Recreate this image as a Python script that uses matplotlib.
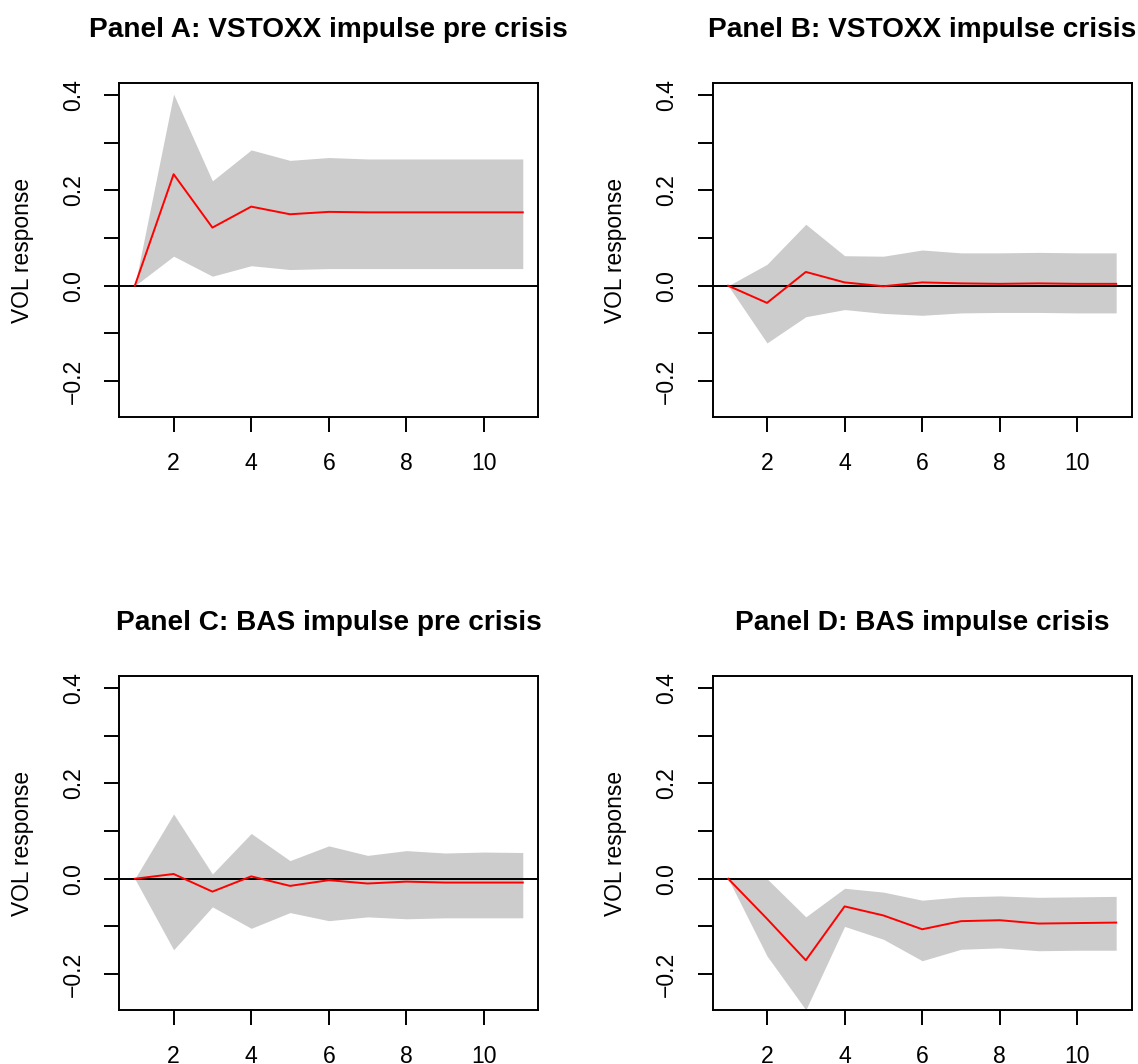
import matplotlib
matplotlib.use("Agg")
import matplotlib.pyplot as plt
import numpy as np

plt.rcParams['font.family'] = ['Liberation Sans', 'DejaVu Sans']

steps = [1, 2, 3, 4, 5, 6, 7, 8, 9, 10, 11]

titles = ["Panel A: VSTOXX impulse pre crisis",
          "Panel B: VSTOXX impulse crisis",
          "Panel C: BAS impulse pre crisis",
          "Panel D: BAS impulse crisis"]

a_resp = [0, 0.234, 0.122, 0.166, 0.150, 0.155, 0.154, 0.154, 0.154, 0.154, 0.154]
a_upper = [0, 0.402, 0.220, 0.285, 0.263, 0.269, 0.266, 0.266, 0.266, 0.266, 0.266]
a_lower = [0, 0.062, 0.020, 0.042, 0.034, 0.036, 0.036, 0.036, 0.036, 0.036, 0.036]

b_resp = [0, -0.036, 0.029, 0.007, -0.001, 0.007, 0.005, 0.004, 0.005, 0.004, 0.004]
b_upper = [0, 0.045, 0.129, 0.063, 0.062, 0.075, 0.069, 0.069, 0.070, 0.069, 0.069]
b_lower = [0, -0.120, -0.065, -0.050, -0.058, -0.062, -0.057, -0.056, -0.056, -0.057, -0.057]

c_resp = [0, 0.010, -0.027, 0.005, -0.015, -0.003, -0.010, -0.006, -0.008, -0.008, -0.008]
c_upper = [0, 0.136, 0.010, 0.095, 0.038, 0.069, 0.049, 0.059, 0.054, 0.056, 0.055]
c_lower = [0, -0.149, -0.059, -0.104, -0.071, -0.088, -0.080, -0.084, -0.082, -0.082, -0.082]

d_resp = [0, -0.084, -0.171, -0.058, -0.077, -0.106, -0.089, -0.087, -0.094, -0.093, -0.092]
d_upper = [0, 0.0, -0.080, -0.020, -0.028, -0.045, -0.038, -0.036, -0.039, -0.038, -0.037]
d_lower = [0, -0.162, -0.275, -0.100, -0.127, -0.172, -0.148, -0.145, -0.151, -0.150, -0.150]

panels = [(a_resp, a_upper, a_lower), (b_resp, b_upper, b_lower),
          (c_resp, c_upper, c_lower), (d_resp, d_upper, d_lower)]

W, H = 1138, 1064
fig = plt.figure(figsize=(W / 100, H / 100), dpi=100)

lefts = [119.3, 712.7]
tops = [82.7, 675.7]
pw, ph = 419.0, 334.6

lw = 1.4
for i, (resp, up, lo) in enumerate(panels):
    col = i % 2
    row = i // 2
    l = lefts[col] / W
    b = 1 - (tops[row] + ph) / H
    ax = fig.add_axes([l, b, pw / W, ph / H])
    ax.fill_between(steps, lo, up, color='#CCCCCC', linewidth=0)
    ax.axhline(0, color='black', linewidth=lw)
    ax.plot(steps, resp, color='red', linewidth=lw)
    ax.set_xlim(0.6, 11.4)
    ax.set_ylim(-0.276, 0.426)
    ax.set_xticks([2, 4, 6, 8, 10])
    ax.set_yticks([-0.2, -0.1, 0.0, 0.1, 0.2, 0.3, 0.4])
    ax.set_yticklabels(['\u22120.2', '', '0.0', '', '0.2', '', '0.4'])
    for s in ax.spines.values():
        s.set_linewidth(lw)
    ax.tick_params(axis='both', direction='out', length=10.8, width=lw,
                   labelsize=16.6, pad=14.5)
    ax.tick_params(axis='y', labelrotation=90, pad=14)
    for t in ax.get_yticklabels():
        t.set_va('center')
    ax.text(-0.232, 0.5, 'VOL response', transform=ax.transAxes, rotation=90,
            ha='center', va='center', fontsize=16.4)
    ax.text(0.5, 1 + 53 / ph, titles[i], transform=ax.transAxes,
            ha='center', va='center', fontsize=20.2, fontweight='bold')

fig.savefig('out.png', dpi=100)
